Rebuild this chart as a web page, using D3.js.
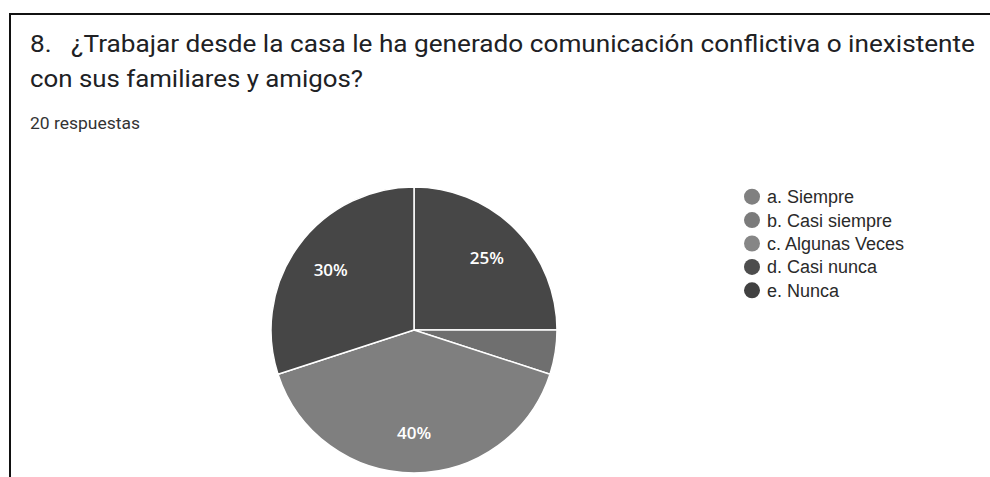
<!DOCTYPE html>
<html>
<head>
<meta charset="utf-8">
<script src="https://cdn.jsdelivr.net/npm/d3@7/dist/d3.min.js"></script>
<style>
  html, body { margin: 0; padding: 0; background: #fff; }
  svg { display: block; }
  text { white-space: pre; }
</style>
</head>
<body>
<svg id="chart" width="990" height="477"></svg>
<script>
const categories = ["a. Siempre", "b. Casi siempre", "c. Algunas Veces", "d. Casi nunca", "e. Nunca"];
const counts = [5, 1, 8, 6, 0];
const titleLines = ["8.   ¿Trabajar desde la casa le ha generado comunicación conflictiva o inexistente", "con sus familiares y amigos?"];
const subtitle = "20 respuestas";

const sliceColors = ["#474747", "#6f6f6f", "#7f7f7f", "#464646", "#3f3f3f"];
const legendColors = ["#808080", "#7b7b7b", "#868686", "#4d4d4d", "#414141"];

const svg = d3.select("#chart");
const W = 990, H = 477;
const FONT = "Roboto, 'Liberation Sans', sans-serif";

// frame
svg.append("path")
  .attr("d", `M10,${H} L10,14 L${W},14`)
  .attr("fill", "none").attr("stroke", "#111").attr("stroke-width", 2);

// title
svg.append("text").attr("x", 30).attr("y", 52)
  .attr("font-family", FONT)
  .attr("font-size", 24).attr("fill", "#202124")
  .attr("textLength", 945).attr("lengthAdjust", "spacingAndGlyphs")
  .text(titleLines[0]);
svg.append("text").attr("x", 30).attr("y", 87)
  .attr("font-family", FONT)
  .attr("font-size", 24).attr("fill", "#202124")
  .attr("textLength", 333).attr("lengthAdjust", "spacingAndGlyphs")
  .text(titleLines[1]);
svg.append("text").attr("x", 30).attr("y", 129)
  .attr("font-family", FONT)
  .attr("font-size", 16).attr("fill", "#333")
  .attr("textLength", 110).attr("lengthAdjust", "spacingAndGlyphs")
  .text(subtitle);

// pie
const cx = 414, cy = 330, R = 143;
const total = d3.sum(counts);
const data = categories.map((c, i) => ({ cat: c, v: counts[i], i }));
const pie = d3.pie().value(d => d.v).sort(null);
const arcs = pie(data);
const arc = d3.arc().innerRadius(0).outerRadius(R);
const labelArc = d3.arc().innerRadius(R * 0.72).outerRadius(R * 0.72);

const g = svg.append("g").attr("transform", `translate(${cx},${cy})`);
g.selectAll("path.slice").data(arcs.filter(a => a.data.v > 0)).join("path")
  .attr("class", "slice")
  .attr("d", arc)
  .attr("fill", d => sliceColors[d.data.i])
  .attr("stroke", "#fff").attr("stroke-width", 1.5);

g.selectAll("text.lbl").data(arcs.filter(a => a.data.v / total >= 0.1)).join("text")
  .attr("class", "lbl")
  .attr("transform", d => { const [x, y] = labelArc.centroid(d); return `translate(${x},${y})`; })
  .attr("text-anchor", "middle").attr("dominant-baseline", "central")
  .attr("font-family", "'Open Sans', Roboto, sans-serif")
  .attr("font-size", 17).attr("font-weight", 600).attr("fill", "#fff")
  .text(d => Math.round(d.data.v / total * 100) + "%");

// legend
const ly = d3.scaleBand().domain(categories).range([185, 302]);
const lg = svg.append("g");
const items = lg.selectAll("g").data(categories).join("g")
  .attr("transform", d => `translate(752,${ly(d) + ly.bandwidth() / 2})`);
items.append("circle").attr("r", 8).attr("fill", (d, i) => legendColors[i]);
items.append("text").attr("x", 15).attr("dy", "0.36em")
  .attr("font-family", "'Liberation Sans', Arial, sans-serif")
  .attr("font-size", 18).attr("fill", "#2a2a2a")
  .text(d => d);
</script>
</body>
</html>
